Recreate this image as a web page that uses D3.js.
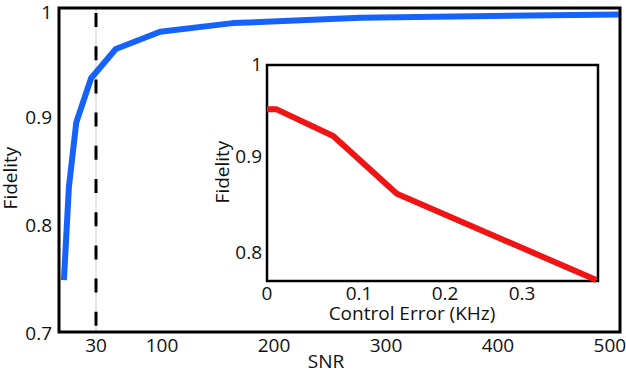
<!DOCTYPE html>
<html>
<head>
<meta charset="utf-8">
<script src="https://d3js.org/d3.v7.min.js"></script>
<style>
  body { margin: 0; background: #fff; }
  text { font-family: "Open Sans", sans-serif; font-size: 19px; fill: #111; }
</style>
</head>
<body>
<script>
// main curve: fidelity vs SNR
var snr      = [4, 8, 14, 26, 51, 98, 163, 277, 508];
var fidelity = [0.748, 0.834, 0.894, 0.935, 0.962, 0.978, 0.986, 0.991, 0.994];
var snrTicks = [30, 100, 200, 300, 400, 500];
var fidTicks = [0.7, 0.8, 0.9, 1];
var snrMark = 30;

// inset: fidelity vs control error
var ctrlErr  = [0, 0.01, 0.072, 0.144, 0.388];
var ctrlFid  = [0.949, 0.949, 0.921, 0.861, 0.771];
var errTicks = [0, 0.1, 0.2, 0.3];
var insetFidTicks = [0.8, 0.9, 1];

var width = 626, height = 374;

var svg = d3.select("body").append("svg")
    .attr("width", width)
    .attr("height", height);

// axis in the figure is hand-labelled, so piecewise linear
var x = d3.scaleLinear()
    .domain([0, 30, 100, 509])
    .range([59, 96, 162, 620]);
var y = d3.scaleLinear()
    .domain([0.7, 1])
    .range([332, 8]);

// dashed marker at SNR = 30
svg.append("line")
    .attr("x1", x(snrMark)).attr("x2", x(snrMark))
    .attr("y1", y(1)).attr("y2", y(0.7))
    .attr("stroke", "#ccc").attr("stroke-width", 1);
svg.append("line")
    .attr("x1", x(snrMark)).attr("x2", x(snrMark))
    .attr("y1", 13).attr("y2", y(0.7))
    .attr("stroke", "#000").attr("stroke-width", 3)
    .attr("stroke-dasharray", "14,19.2");

var line = d3.line()
    .x(function(d) { return x(d[0]); })
    .y(function(d) { return y(d[1]); });

svg.append("path")
    .datum(d3.zip(snr, fidelity))
    .attr("d", line)
    .attr("fill", "none")
    .attr("stroke", "#1662fc")
    .attr("stroke-width", 6)
    .attr("stroke-linejoin", "round");

svg.append("rect")
    .attr("x", x.range()[0]).attr("y", y(1))
    .attr("width", x.range()[3] - x.range()[0])
    .attr("height", y(0.7) - y(1))
    .attr("fill", "none").attr("stroke", "#000").attr("stroke-width", 3);

svg.selectAll(".ytick").data(fidTicks).enter().append("text")
    .attr("x", 52).attr("y", function(d) { return y(d) + (d === 1 ? 4 : 1); })
    .attr("dy", "0.35em")
    .attr("text-anchor", "end")
    .text(function(d) { return d; });

svg.selectAll(".xtick").data(snrTicks).enter().append("text")
    .attr("x", function(d) { return x(d); }).attr("y", 352)
    .attr("text-anchor", "middle")
    .text(function(d) { return d; });

svg.append("text")
    .attr("x", 326).attr("y", 368)
    .attr("text-anchor", "middle")
    .text("SNR");

svg.append("text")
    .attr("transform", "translate(17,178) rotate(-90)")
    .attr("text-anchor", "middle")
    .text("Fidelity");

// inset
var xi = d3.scaleLinear()
    .domain([0, 0.1, 0.2, 0.3, 0.39])
    .range([267, 359, 445, 522, 598]);
var yi = d3.scaleLinear()
    .domain([0.77, 0.995])
    .range([281, 65]);

svg.append("rect")
    .attr("x", 267).attr("y", yi(0.995))
    .attr("width", 598 - 267).attr("height", yi(0.77) - yi(0.995))
    .attr("fill", "#fff").attr("stroke", "#000").attr("stroke-width", 2.5);

var insetLine = d3.line()
    .x(function(d) { return xi(d[0]); })
    .y(function(d) { return yi(d[1]); });

svg.append("path")
    .datum(d3.zip(ctrlErr, ctrlFid))
    .attr("d", insetLine)
    .attr("fill", "none")
    .attr("stroke", "#f01414")
    .attr("stroke-width", 6);

svg.selectAll(".iytick").data(insetFidTicks).enter().append("text")
    .attr("x", 262).attr("y", function(d) { return yi(d) + (d === 1 ? 4 : 0); })
    .attr("dy", "0.35em")
    .attr("text-anchor", "end")
    .text(function(d) { return d; });

svg.selectAll(".ixtick").data(errTicks).enter().append("text")
    .attr("x", function(d) { return xi(d); }).attr("y", 300)
    .attr("text-anchor", "middle")
    .text(function(d) { return d; });

svg.append("text")
    .attr("x", 412).attr("y", 320)
    .attr("text-anchor", "middle")
    .text("Control Error (KHz)");

svg.append("text")
    .attr("transform", "translate(229,172) rotate(-90)")
    .attr("text-anchor", "middle")
    .text("Fidelity");
</script>
</body>
</html>
